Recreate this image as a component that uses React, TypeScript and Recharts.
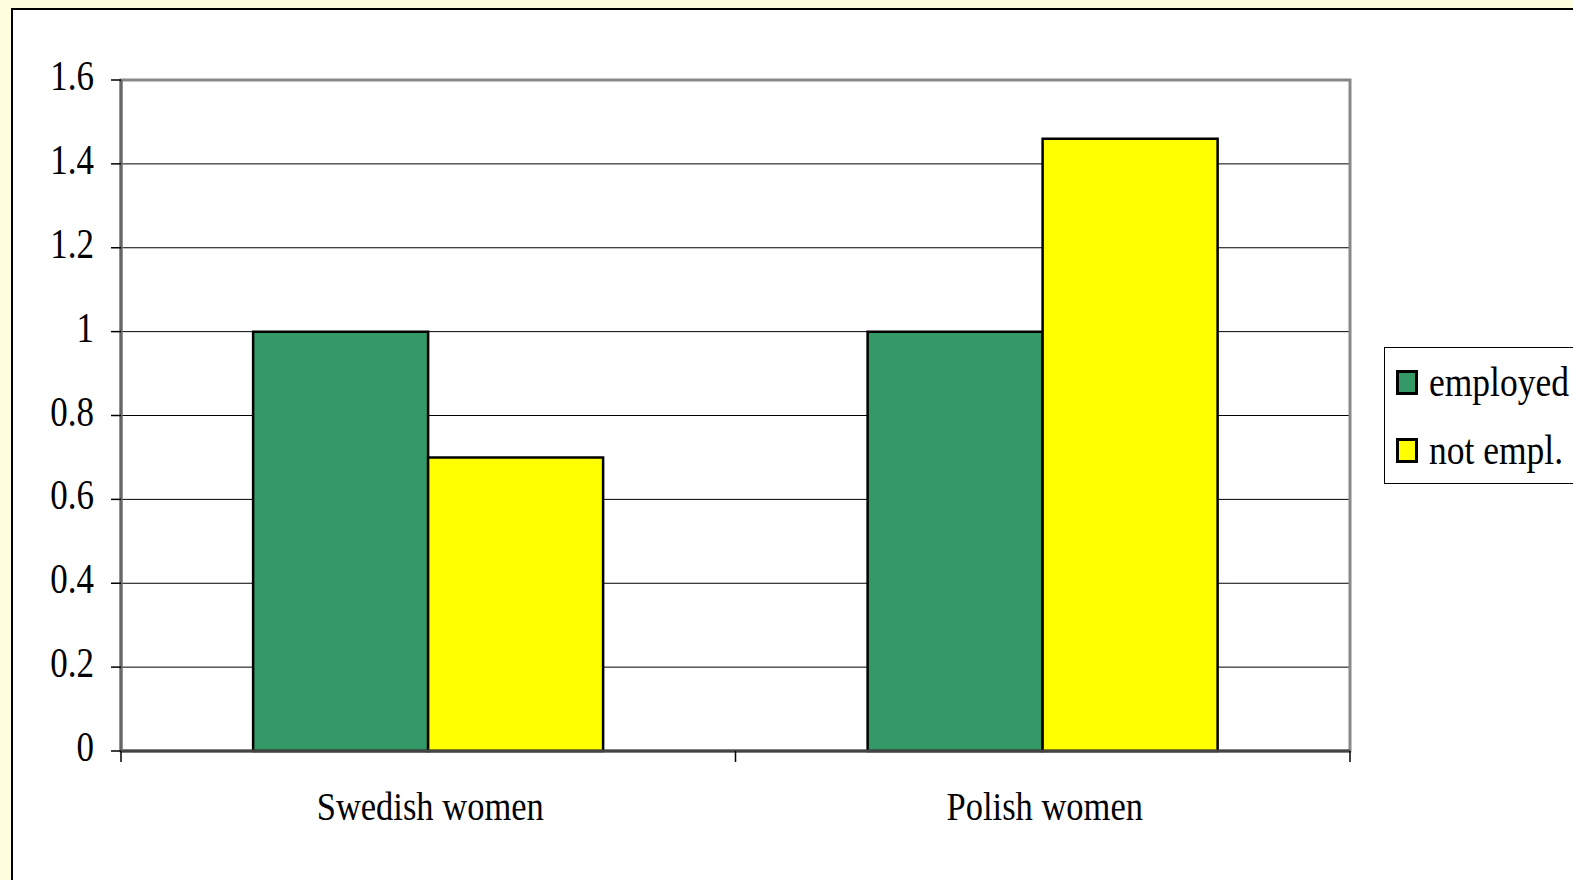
import {
  BarChart, Bar, XAxis, YAxis, CartesianGrid, ReferenceArea,
} from 'recharts';

const categories = ['Swedish women', 'Polish women'];
const employed = [1, 1];
const notEmployed = [0.7, 1.46];
const yTicks = [0, 0.2, 0.4, 0.6, 0.8, 1, 1.2, 1.4, 1.6];

const data = categories.map((name, i) => ({
  name,
  employed: employed[i],
  notEmpl: notEmployed[i],
}));

const FONT = '"Liberation Serif", "Times New Roman", serif';
const STRETCH = 1.18; // the original text is drawn a bit taller than normal

// x axis ticks sit on category boundaries, label in the middle
const CategoryTick = (props: any) => {
  const { x, y, payload, index, visibleTicksCount } = props;
  const half = payload && payload.offset ? payload.offset : 306;
  const last = index === visibleTicksCount - 1;
  return (
    <g>
      <line x1={x - half} y1={y - 8} x2={x - half} y2={y + 3} stroke="#000" strokeWidth={1.5} />
      {last && <line x1={x + half} y1={y - 8} x2={x + half} y2={y + 3} stroke="#000" strokeWidth={1.5} />}
      <g transform={`translate(${x + 2},${y + 61}) scale(1,${STRETCH})`}>
        <text x={0} y={0} textAnchor="middle" fontFamily={FONT} fontSize={34.5} fill="#000">
          {payload.value}
        </text>
      </g>
    </g>
  );
};

const ValueTick = (props: any) => {
  const { x, y, payload } = props;
  return (
    <g transform={`translate(${x},${y + 10}) scale(1,${STRETCH})`}>
      <text x={0} y={0} textAnchor="end" fontFamily={FONT} fontSize={35} fill="#000">
        {payload.value}
      </text>
    </g>
  );
};

const legendItems = [
  { label: 'employed', color: '#339966' },
  { label: 'not empl.', color: '#ffff00' },
];

const LegendBox = () => (
  <div
    style={{
      position: 'absolute', left: 1384, top: 347, width: 230, height: 137,
      border: '1.5px solid #000', background: '#fff', boxSizing: 'border-box',
      fontFamily: FONT, fontSize: 35.5, color: '#000',
    }}
  >
    {legendItems.map((it, i) => (
      <div key={i} style={{ position: 'absolute', left: 11, top: 22 + i * 68, height: 24, display: 'flex', alignItems: 'center' }}>
        <div style={{ width: 16, height: 19, border: '3px solid #000', background: it.color }} />
        <span
          style={{
            marginLeft: 11, whiteSpace: 'nowrap', lineHeight: '24px',
            display: 'inline-block', transform: `scaleY(${STRETCH})`, transformOrigin: 'center 60%',
          }}
        >
          {it.label}
        </span>
      </div>
    ))}
  </div>
);

const App = () => {
  return (
    <div style={{ position: 'relative', width: 1573, height: 880, background: '#ffffdf', overflow: 'hidden' }}>
      <style>{'body{margin:0}'}</style>
      <div
        style={{
          position: 'absolute', left: 11, top: 8, width: 1700, height: 1000,
          background: '#fff', borderLeft: '2px solid #000', borderTop: '2px solid #000',
        }}
      />
      <div style={{ position: 'absolute', left: 0, top: 0 }}>
        <BarChart
          width={1573}
          height={880}
          data={data}
          margin={{ top: 80, right: 223, left: 0, bottom: 0 }}
          barCategoryGap="21.5%"
          barGap={0}
        >
          <CartesianGrid vertical={false} stroke="#000" strokeWidth={1} />
          <ReferenceArea y1={0} y2={1.6} fill="none" stroke="#888" strokeWidth={3} />
          <XAxis
            dataKey="name"
            axisLine={{ stroke: '#444', strokeWidth: 3 }}
            tickLine={false}
            tick={<CategoryTick />}
            interval={0}
            height={129}
          />
          <YAxis
            domain={[0, 1.6]}
            ticks={yTicks}
            width={121}
            axisLine={{ stroke: '#666', strokeWidth: 3 }}
            tickLine={{ stroke: '#000', strokeWidth: 1.5 }}
            tickSize={10}
            tickMargin={17}
            tick={<ValueTick />}
            interval={0}
          />
          <Bar dataKey="employed" fill="#339966" stroke="#000" strokeWidth={2.5} isAnimationActive={false} />
          <Bar dataKey="notEmpl" fill="#ffff00" stroke="#000" strokeWidth={2.5} isAnimationActive={false} />
        </BarChart>
      </div>
      <LegendBox />
    </div>
  );
};

export default App;
